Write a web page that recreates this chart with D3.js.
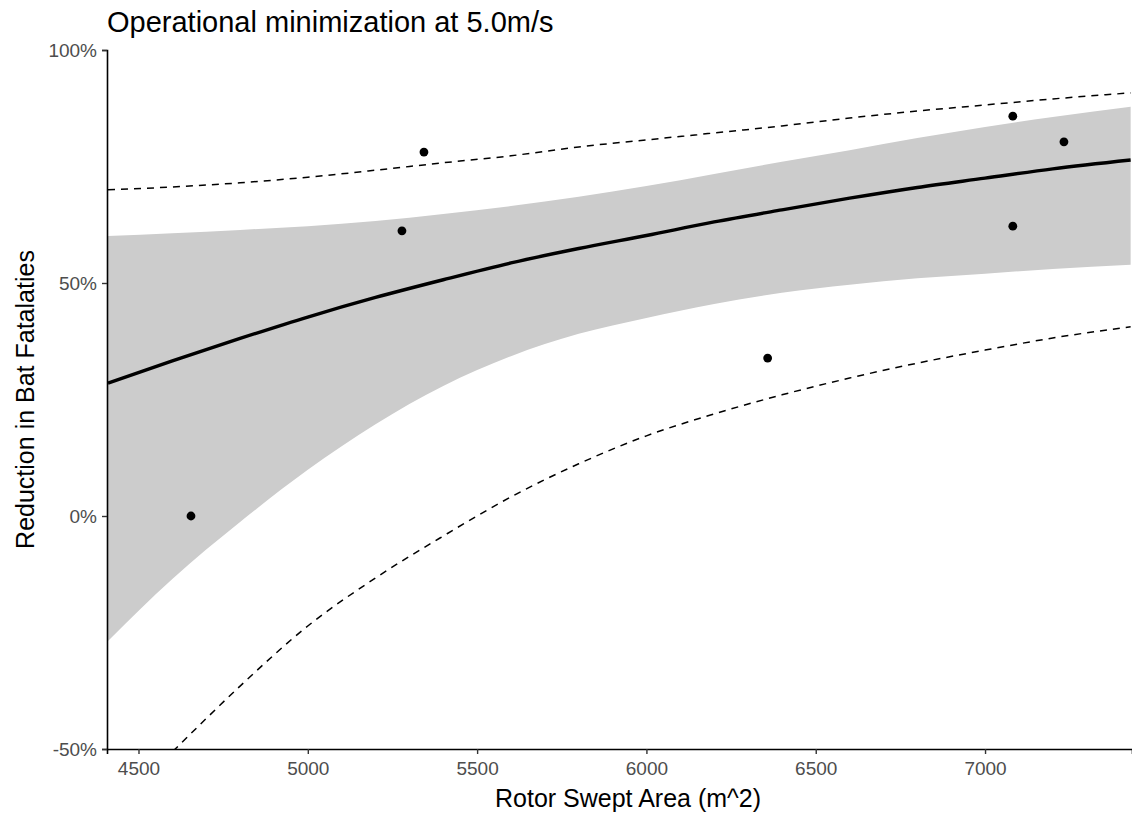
<!DOCTYPE html>
<html>
<head>
<meta charset="utf-8">
<script src="https://cdnjs.cloudflare.com/ajax/libs/d3/7.8.5/d3.min.js"></script>
<style>
    body { margin: 0; background: #fff; }
    text { font-family: "Liberation Sans", Arial, sans-serif; }
</style>
</head>
<body>
<div id="chart"></div>
<script>

// observed sites
let siteArea = [4655, 5278, 5343, 6358, 7082, 7082, 7233];
let siteReduction = [0.0, 0.612, 0.781, 0.339, 0.858, 0.622, 0.803];

let gridArea = [4410, 4600, 4800, 5000, 5200, 5400, 5600, 5800, 6000, 6200, 6400, 6600, 6800, 7000, 7200, 7430];
let fitMean = [0.285, 0.333, 0.381, 0.427, 0.469, 0.507, 0.543, 0.574, 0.602, 0.631, 0.657, 0.682, 0.705, 0.725, 0.745, 0.764];
let confUpper = [0.601, 0.607, 0.614, 0.622, 0.633, 0.648, 0.665, 0.685, 0.708, 0.734, 0.760, 0.785, 0.811, 0.835, 0.856, 0.878];
let confLower = [-0.268, -0.135, -0.013, 0.099, 0.197, 0.279, 0.343, 0.391, 0.425, 0.455, 0.479, 0.496, 0.510, 0.520, 0.530, 0.539];
let predUpper = [0.700, 0.706, 0.715, 0.727, 0.742, 0.758, 0.773, 0.792, 0.807, 0.822, 0.837, 0.854, 0.869, 0.882, 0.895, 0.908];
let predLower = [-0.642, -0.506, -0.365, -0.236, -0.133, -0.043, 0.041, 0.112, 0.172, 0.219, 0.260, 0.296, 0.328, 0.356, 0.382, 0.406];

let xTicks = [4500, 5000, 5500, 6000, 6500, 7000];
let yTicks = [-0.5, 0, 0.5, 1.0];

let chartTitle = "Operational minimization at 5.0m/s";
let xTitle = "Rotor Swept Area (m^2)";
let yTitle = "Reduction in Bat Fatalaties";

let margin = {top: 50, right: 0, bottom: 67, left: 107};
let width = 1132 - margin.left - margin.right;
let height = 816 - margin.top - margin.bottom;

let svg = d3.select("#chart").append("svg")
    .attr("width", 1132)
    .attr("height", 816);

let g = svg.append("g")
    .attr("transform", `translate(${margin.left}, ${margin.top})`);

let x = d3.scaleLinear().domain([4407, 7434]).range([0, width]);
let y = d3.scaleLinear().domain([-0.5, 1.0]).range([height, 0]);

g.append("clipPath").attr("id", "plotClip")
    .append("rect").attr("width", width).attr("height", height);

let curveData = gridArea.map((a, i) => ({
    area: a, fit: fitMean[i], lo: confLower[i], hi: confUpper[i], plo: predLower[i], phi: predUpper[i]
}));

let plot = g.append("g").attr("clip-path", "url(#plotClip)");

// confidence ribbon
plot.append("path")
    .datum(curveData)
    .attr("fill", "#cccccc")
    .attr("d", d3.area().curve(d3.curveMonotoneX)
        .x(d => x(d.area)).y0(d => y(d.lo)).y1(d => y(d.hi)));

// prediction interval
["plo", "phi"].forEach(key => {
    plot.append("path")
        .datum(curveData)
        .attr("fill", "none")
        .attr("stroke", "#000")
        .attr("stroke-width", 1.5)
        .attr("stroke-dasharray", "7,6")
        .attr("d", d3.line().curve(d3.curveMonotoneX).x(d => x(d.area)).y(d => y(d[key])));
});

// fitted line
plot.append("path")
    .datum(curveData)
    .attr("fill", "none")
    .attr("stroke", "#000")
    .attr("stroke-width", 3.4)
    .attr("d", d3.line().curve(d3.curveMonotoneX).x(d => x(d.area)).y(d => y(d.fit)));

plot.selectAll("circle.site")
    .data(siteArea)
    .enter().append("circle")
    .attr("class", "site")
    .attr("cx", d => x(d))
    .attr("cy", (d, i) => y(siteReduction[i]))
    .attr("r", 4.4)
    .attr("fill", "#000");

// axes
let pct = d3.format(".0%");
let xAxis = g.append("g")
    .attr("transform", `translate(0, ${height})`)
    .call(d3.axisBottom(x).tickValues(xTicks).tickSize(5).tickPadding(8).tickFormat(d3.format("d")));
let yAxis = g.append("g")
    .call(d3.axisLeft(y).tickValues(yTicks).tickSize(5).tickPadding(5)
        .tickFormat(d => pct(d).replace("\u2212", "-")));

[xAxis, yAxis].forEach(ax => {
    ax.select(".domain").attr("stroke", "#000").attr("stroke-width", 1.6);
    ax.selectAll(".tick line").attr("stroke", "#333").attr("stroke-width", 1.4);
    ax.selectAll(".tick text").attr("fill", "#4d4d4d").style("font-size", "19px")
        .style("font-family", "Liberation Sans, Arial, sans-serif");
});

// titles
svg.append("text")
    .attr("x", margin.left)
    .attr("y", 32)
    .style("font-size", "29px")
    .attr("fill", "#000")
    .text(chartTitle);

// the panel runs a little past the right edge, so the x title sits right of the visible middle
svg.append("text")
    .attr("x", 628)
    .attr("y", 807)
    .attr("text-anchor", "middle")
    .style("font-size", "25px")
    .attr("fill", "#000")
    .text(xTitle);

svg.append("text")
    .attr("transform", `translate(34, ${margin.top + height / 2}) rotate(-90)`)
    .attr("text-anchor", "middle")
    .style("font-size", "25px")
    .attr("fill", "#000")
    .text(yTitle);

</script>
</body>
</html>
